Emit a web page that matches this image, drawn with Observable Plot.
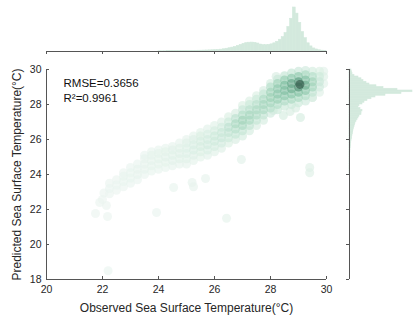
<!DOCTYPE html>
<html><head><meta charset="utf-8">
<script src="https://cdn.jsdelivr.net/npm/d3@7"></script>
<script src="https://cdn.jsdelivr.net/npm/@observablehq/plot@0.6"></script>
<style>
body{margin:0;background:#fff;}
#wrap{position:relative;width:415px;height:325px;font-family:"Liberation Sans",Arial,sans-serif;}
#wrap svg{position:absolute;left:0;top:0;}
</style></head><body><div id="wrap"></div>
<script>
// ---- data ----
const xTicks = [20, 22, 24, 26, 28, 30];
const yTicks = [18, 20, 22, 24, 26, 28, 30];
const xLabel = "Observed Sea Surface Temperature(°C)";
const yLabel = "Predicted Sea Surface Temperature(°C)";
const statText = ["RMSE=0.3656", "R²=0.9961"];

// [observed, predicted, relative density]
const cloudPoints = [
  [21.75,21.77,.02],[22.18,21.6,.02],[22.0,22.57,.02],[22.14,22.23,.02],[22.05,22.95,.02],[21.9,22.4,.02],
  [22.25,22.9,.02],[22.25,23.2,.03],[22.25,23.5,.02],
  [22.5,23.1,.02],[22.5,23.4,.03],[22.5,23.7,.02],
  [22.75,23.3,.02],[22.75,23.6,.04],[22.75,23.9,.04],[22.75,24.1,.02],
  [23.0,23.5,.03],[23.0,23.8,.04],[23.0,24.1,.04],[23.0,24.4,.03],
  [23.25,23.7,.03],[23.25,24.0,.05],[23.25,24.3,.05],[23.25,24.6,.03],
  [23.5,24.0,.03],[23.5,24.3,.05],[23.5,24.6,.05],[23.5,24.9,.05],[23.5,25.1,.03],
  [23.75,24.2,.04],[23.75,24.5,.06],[23.75,24.8,.06],[23.75,25.1,.06],[23.75,25.3,.04],
  [24.0,24.3,.04],[24.0,24.6,.06],[24.0,24.9,.07],[24.0,25.2,.06],[24.0,25.4,.04],
  [24.25,24.4,.04],[24.25,24.7,.07],[24.25,25.0,.08],[24.25,25.3,.07],[24.25,25.5,.04],
  [24.5,24.5,.05],[24.5,24.8,.08],[24.5,25.1,.09],[24.5,25.4,.08],[24.5,25.6,.05],
  [24.75,24.6,.05],[24.75,24.9,.09],[24.75,25.2,.1],[24.75,25.5,.09],[24.75,25.8,.05],
  [25.0,24.6,.05],[25.0,24.9,.09],[25.0,25.2,.11],[25.0,25.5,.11],[25.0,25.8,.09],[25.0,26.0,.05],
  [25.25,24.8,.06],[25.25,25.1,.1],[25.25,25.4,.13],[25.25,25.7,.13],[25.25,26.0,.1],[25.25,26.2,.06],
  [25.5,25.0,.07],[25.5,25.3,.12],[25.5,25.6,.15],[25.5,25.9,.15],[25.5,26.2,.12],[25.5,26.4,.07],
  [25.75,25.1,.08],[25.75,25.4,.13],[25.75,25.7,.17],[25.75,26.0,.17],[25.75,26.3,.13],[25.75,26.6,.08],
  [26.0,25.3,.09],[26.0,25.6,.15],[26.0,25.9,.19],[26.0,26.2,.2],[26.0,26.5,.15],[26.0,26.8,.09],
  [26.25,25.5,.1],[26.25,25.8,.17],[26.25,26.1,.22],[26.25,26.4,.23],[26.25,26.7,.17],[26.25,27.0,.1],
  [26.5,25.8,.12],[26.5,26.1,.2],[26.5,26.4,.26],[26.5,26.7,.28],[26.5,27.0,.2],[26.5,27.3,.12],
  [26.75,26.0,.14],[26.75,26.3,.24],[26.75,26.6,.3],[26.75,26.9,.35],[26.75,27.2,.28],[26.75,27.5,.14],
  [27.0,26.2,.15],[27.0,26.5,.25],[27.0,26.8,.35],[27.0,27.1,.4],[27.0,27.4,.32],[27.0,27.7,.22],[27.0,27.95,.12],
  [27.25,26.5,.15],[27.25,26.8,.26],[27.25,27.1,.36],[27.25,27.4,.38],[27.25,27.7,.3],[27.25,28.0,.2],[27.25,28.2,.12],
  [27.5,26.8,.14],[27.5,27.1,.25],[27.5,27.4,.33],[27.5,27.7,.35],[27.5,28.0,.3],[27.5,28.3,.2],[27.5,28.5,.12],
  [27.75,27.1,.15],[27.75,27.4,.26],[27.75,27.7,.35],[27.75,28.0,.38],[27.75,28.3,.35],[27.75,28.6,.24],[27.75,28.8,.14],
  [28.0,27.5,.18],[28.0,27.8,.3],[28.0,28.1,.38],[28.0,28.4,.42],[28.0,28.7,.4],[28.0,29.0,.3],[28.0,29.2,.16],
  [28.25,27.7,.2],[28.25,28.0,.32],[28.25,28.3,.44],[28.25,28.6,.5],[28.25,28.9,.5],[28.25,29.2,.4],[28.25,29.45,.22],
  [28.5,27.9,.2],[28.5,28.2,.34],[28.5,28.5,.5],[28.5,28.8,.58],[28.5,29.1,.6],[28.5,29.4,.45],[28.5,29.65,.25],
  [28.75,28.0,.2],[28.75,28.3,.36],[28.75,28.6,.52],[28.75,28.9,.66],[28.75,29.2,.7],[28.75,29.5,.5],[28.75,29.8,.25],
  [29.0,28.1,.2],[29.0,28.4,.36],[29.0,28.7,.56],[29.0,29.0,.78],[29.05,29.15,1.0],[29.0,29.3,.75],[29.0,29.6,.5],[29.0,29.9,.22],
  [29.25,28.2,.18],[29.25,28.5,.32],[29.25,28.8,.5],[29.25,29.1,.66],[29.25,29.4,.58],[29.25,29.7,.36],[29.25,29.95,.18],
  [29.5,28.4,.14],[29.5,28.7,.26],[29.5,29.0,.38],[29.5,29.3,.4],[29.5,29.6,.32],[29.5,29.9,.16],
  [29.75,28.7,.1],[29.75,29.0,.18],[29.75,29.3,.22],[29.75,29.6,.2],[29.75,29.9,.12],
  [29.9,29.2,.08],[29.9,29.6,.1],[29.9,29.9,.08]
];
const outlierPoints = [
  [23.93,21.83,.03],[24.54,23.26,.04],[25.2,23.54,.05],[25.25,23.3,.05],[25.68,23.77,.05],
  [26.43,21.5,.06],[22.2,18.5,.03],[26.96,24.86,.08],[29.4,24.4,.1],[29.4,24.1,.1],
  [29.07,27.26,.15],[28.46,27.37,.15],[28.1,27.66,.14],[29.5,28.4,.14],[28.9,27.8,.14],
  [28.2,29.6,.14],[28.7,27.6,.14]
];

// observed-temperature histogram (bin start, width 0.1) and counts
const binWidth = 0.1;
const obsBins = [24.0,24.1,24.2,24.3,24.4,24.5,24.6,24.7,24.8,24.9,25.0,25.1,25.2,25.3,25.4,25.5,25.6,25.7,25.8,25.9,
  26.0,26.1,26.2,26.3,26.4,26.5,26.6,26.7,26.8,26.9,27.0,27.1,27.2,27.3,27.4,27.5,27.6,27.7,27.8,27.9,
  28.0,28.1,28.2,28.3,28.4,28.5,28.6,28.7,28.8,28.9,29.0,29.1,29.2,29.3,29.4,29.5,29.6,29.7,29.8,29.9];
const obsCounts = [0.2,0.2,0.25,0.3,0.3,0.35,0.4,0.45,0.5,0.5,0.55,0.6,0.65,0.7,0.75,0.8,0.9,1.0,1.1,1.2,
  1.3,1.5,1.8,2.2,2.7,3.2,3.8,4.5,5.5,6.5,7.5,8.2,8.6,8.7,8.5,7.8,6.8,6.3,6.2,6.5,
  7.0,8.0,9.5,11.5,14,18,24,32,43,37,28,19,13,8,5,3,2,1.2,0.8,0.4];

// predicted-temperature histogram (bin start, width 0.1) and counts
const predBins = [24.0,24.1,24.2,24.3,24.4,24.5,24.6,24.7,24.8,24.9,25.0,25.1,25.2,25.3,25.4,25.5,25.6,25.7,25.8,25.9,
  26.0,26.1,26.2,26.3,26.4,26.5,26.6,26.7,26.8,26.9,27.0,27.1,27.2,27.3,27.4,27.5,27.6,27.7,27.8,27.9,
  28.0,28.1,28.2,28.3,28.4,28.5,28.6,28.7,28.8,28.9,29.0,29.1,29.2,29.3,29.4,29.5,29.6,29.7,29.8,29.9];
const predCounts = [0.2,0.2,0.2,0.25,0.3,0.3,0.35,0.4,0.45,0.5,0.6,0.7,0.8,0.9,1.0,1.2,1.4,1.6,1.8,2.0,
  2.4,2.7,3.0,3.3,3.7,4.0,4.5,5.0,5.5,6.0,7,8,9,10,12,12,13,11,9,10,
  13,15,18,22,26,36,52,63,48,34,27,20,17,14,12,9,5,3,2.5,2];

// ---- styles ----
const densDomain = [0, 0.1, 0.25, 0.4, 0.6, 0.8, 1];
const densColors = ["#eef6f2", "#dff0e7", "#c3e5d4", "#9fd3b9", "#7cbd9e", "#4f8f74", "#2f5647"];
const axisColor = "#555";
const histColor = "#d3e9dd";
const font = "'Liberation Sans', Arial, sans-serif";

const wrap = document.getElementById("wrap");
const baseStyle = {background: "transparent", fontFamily: font, fontSize: "10.5px", color: "#262626", overflow: "visible"};

const allPts = [...cloudPoints, ...outlierPoints].sort((a, b) => a[2] - b[2]);

const mainChart = Plot.plot({
  width: 415, height: 325,
  marginLeft: 46, marginRight: 89, marginTop: 69, marginBottom: 46,
  style: baseStyle,
  x: {domain: [20, 30]},
  y: {domain: [18, 30]},
  color: {type: "linear", domain: densDomain, range: densColors},
  marks: [
    Plot.dot(allPts, {x: d => d[0], y: d => d[1], fill: d => d[2], r: 4.5, fillOpacity: 0.65}),
    Plot.ruleX([20], {stroke: axisColor}),
    Plot.ruleY([18], {stroke: axisColor}),
    Plot.axisX(xTicks, {tickSize: -3, tickPadding: 9, stroke: axisColor}),
    Plot.axisY(yTicks, {tickSize: -3, tickPadding: 8, stroke: axisColor}),
    Plot.text([xLabel], {frameAnchor: "bottom", dy: 32, fontSize: 12, fill: "#262626"}),
    Plot.text([yLabel], {frameAnchor: "left", dx: -29, rotate: -90, textAnchor: "middle", fontSize: 12, fill: "#262626"}),
    Plot.text([statText.join("\n")], {frameAnchor: "top-left", dx: 17, dy: 6, textAnchor: "start", lineAnchor: "top", lineHeight: 1.35, fontSize: 11.5, fill: "#111"})
  ]
});
wrap.appendChild(mainChart);

const topChart = Plot.plot({
  width: 415, height: 325,
  marginLeft: 46, marginRight: 89, marginTop: 7, marginBottom: 274,
  style: baseStyle,
  x: {domain: [20, 30]},
  y: {domain: [0, 43], axis: null},
  marks: [
    Plot.rectY(obsBins, {x1: d => d, x2: d => d + binWidth, y: (d, i) => obsCounts[i], fill: histColor, stroke: histColor, strokeWidth: 0.6}),
    Plot.ruleY([0], {stroke: axisColor}),
    Plot.axisX(xTicks, {tickSize: 3, tickFormat: () => "", stroke: axisColor})
  ]
});
wrap.appendChild(topChart);

const rightChart = Plot.plot({
  width: 415, height: 325,
  marginLeft: 349, marginRight: 3, marginTop: 69, marginBottom: 46,
  style: baseStyle,
  x: {domain: [0, 63], axis: null},
  y: {domain: [18, 30]},
  marks: [
    Plot.rectX(predBins, {y1: d => d, y2: d => d + binWidth, x: (d, i) => predCounts[i], fill: histColor, stroke: histColor, strokeWidth: 0.6}),
    Plot.ruleX([0], {stroke: axisColor}),
    Plot.axisY(yTicks, {tickSize: 3, tickFormat: () => "", stroke: axisColor})
  ]
});
wrap.appendChild(rightChart);
</script></body></html>
